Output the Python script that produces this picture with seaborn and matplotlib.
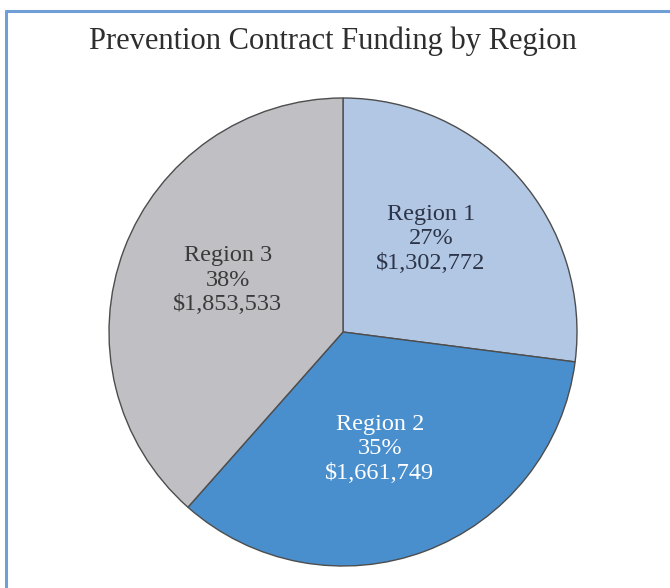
import matplotlib
matplotlib.use("Agg")
import matplotlib.pyplot as plt
from matplotlib.lines import Line2D
import seaborn as sns

# Funding data
regions = ["Region 1", "Region 2", "Region 3"]
percents = ["27%", "35%", "38%"]
amounts = [1302772, 1661749, 1853533]

slice_colors = ["#b2c7e4", "#4a8fcd", "#bfbfc4"]
text_colors = ["#2b3448", "#ffffff", "#3a3a3a"]

sns.set_theme(style="white")
plt.rcParams["font.family"] = ["Liberation Serif", "DejaVu Serif"]

W, H = 670, 588
fig = plt.figure(figsize=(W / 100, H / 100), dpi=100)
fig.patch.set_facecolor("white")

# Frame lines along the top and left edges
frame_color = "#6f9fd6"
fig.add_artist(Line2D([6 / W, 1], [1 - 11 / H, 1 - 11 / H], color=frame_color, lw=2.2,
                      transform=fig.transFigure))
fig.add_artist(Line2D([6 / W, 6 / W], [0, 1 - 11 / H], color=frame_color, lw=2.2,
                      transform=fig.transFigure))

fig.text(333 / W, 1 - 41 / H, "Prevention Contract Funding by Region",
         ha="center", va="center", fontsize=22, color="#2e2e2e")

# Pie axes: centre (343, 332) px, radius 234 px
cx, cy, r = 343, 332, 234
ax = fig.add_axes([(cx - r) / W, (H - cy - r) / H, 2 * r / W, 2 * r / H])
wedges, _ = ax.pie(amounts, colors=slice_colors, startangle=90, counterclock=False,
                   radius=1.0,
                   wedgeprops=dict(edgecolor="#4d4d4d", linewidth=1.0))
ax.set_xlim(-1, 1)
ax.set_ylim(-1, 1)
ax.set_aspect("equal")
ax.axis("off")

# Slice labels
label_pos = [(431, 239), (380, 449), (228, 280)]
for (px, py), name, pct, amt, tc in zip(label_pos, regions, percents, amounts, text_colors):
    x = (px - cx) / r
    y = (cy - py) / r
    ax.text(x, y, f"{name}\n{pct}\n${amt:,}", ha="center", va="center",
            fontsize=17.5, color=tc, linespacing=1.22)

fig.savefig("out.png", dpi=100, facecolor="white")
